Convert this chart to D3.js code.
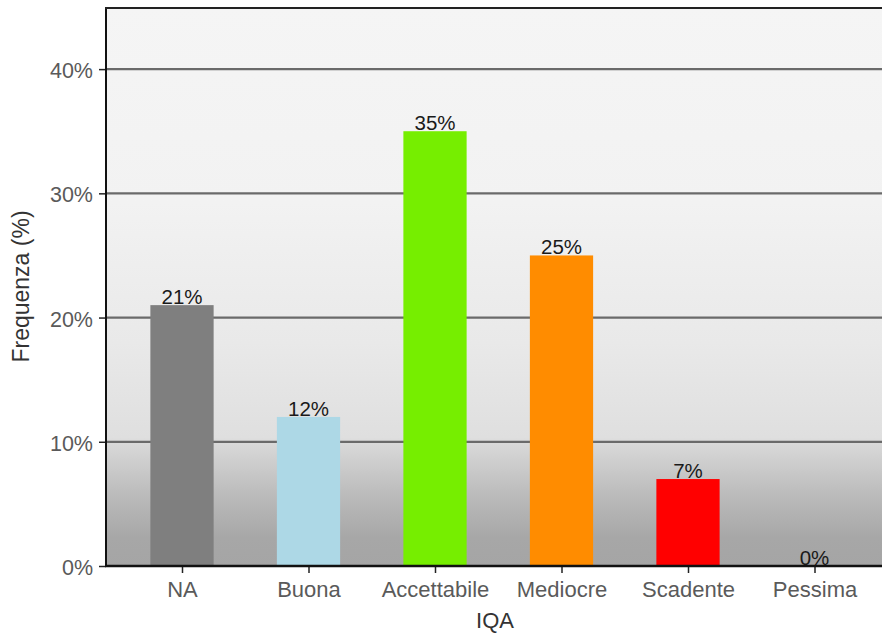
<!DOCTYPE html>
<html><head><meta charset="utf-8">
<script src="https://cdn.jsdelivr.net/npm/d3@7"></script>
<style>body{margin:0;background:#fff}svg{display:block}</style>
</head><body>
<svg id="c" width="882" height="635"></svg>
<script>
const categories = ["NA","Buona","Accettabile","Mediocre","Scadente","Pessima"];
const values = [21,12,35,25,7,0];
const colors = ["#7f7f7f","#add8e6","#76ee00","#ff8c00","#ff0000","#8b008b"];
const yTicks = [0,10,20,30,40];
const yTickLabels = ["0%","10%","20%","30%","40%"];

const svg = d3.select("#c");
const L = 106, R = 890, T = 7, B = 566;
const x = d3.scalePoint().domain(categories).range([182, 814.5]);
const step = x.step();
const bw = step * 0.5;
const y = d3.scaleLinear().domain([0,45]).range([B,T]);
const FF = "Liberation Sans, Arial, sans-serif";

const defs = svg.append("defs");
const g = defs.append("linearGradient").attr("id","bg").attr("x1",0).attr("y1",0).attr("x2",0).attr("y2",1);
[[0,"#f5f5f5"],[0.35,"#f2f2f2"],[0.6,"#e9e9e9"],[0.77,"#dfdfdf"],[0.785,"#d7d7d7"],[0.88,"#b9b9b9"],[0.95,"#a7a7a7"],[1,"#a5a5a5"]]
 .forEach(s=>g.append("stop").attr("offset",s[0]).attr("stop-color",s[1]));
svg.append("rect").attr("x",L).attr("y",T).attr("width",R-L).attr("height",B-T).attr("fill","url(#bg)");

// gridlines
svg.append("g").selectAll("line").data(yTicks.filter(d=>d>0)).join("line")
  .attr("x1",L).attr("x2",R).attr("y1",d=>y(d)).attr("y2",d=>y(d))
  .attr("stroke","#6a6a6a").attr("stroke-width",2.2);

// bars
svg.append("g").selectAll("rect").data(categories).join("rect")
  .attr("x",d=>x(d)-bw/2).attr("width",bw)
  .attr("y",(d,i)=>y(values[i])).attr("height",(d,i)=>B-y(values[i]))
  .attr("fill",(d,i)=>colors[i]);

// labels
svg.append("g").selectAll("text").data(categories).join("text")
  .attr("x",d=>x(d)).attr("y",(d,i)=>y(values[i])-1)
  .attr("text-anchor","middle").attr("font-family",FF)
  .attr("font-size",20.5).attr("fill","#1a1a1a")
  .text((d,i)=>values[i]+"%");

// axes
const yAxis = d3.axisLeft(y).tickValues(yTicks).tickFormat((d,i)=>yTickLabels[i]).tickSize(7).tickPadding(6);
const ya = svg.append("g").attr("transform",`translate(${L},0)`).call(yAxis);
ya.select(".domain").remove();
ya.selectAll(".tick line").attr("stroke","#222").attr("stroke-width",1.5);
ya.selectAll("text").attr("font-family",FF).attr("font-size",21.5).attr("fill","#5a5a5a").attr("dy","0.4em");

const xAxis = d3.axisBottom(x).tickSize(7).tickPadding(8);
const xa = svg.append("g").attr("transform",`translate(0,${B})`).call(xAxis);
xa.select(".domain").remove();
xa.selectAll(".tick line").attr("stroke","#222").attr("stroke-width",1.5);
xa.selectAll("text").attr("font-family",FF).attr("font-size",22).attr("fill","#5a5a5a");

// frame lines
svg.append("line").attr("x1",L).attr("x2",L).attr("y1",T).attr("y2",B+1).attr("stroke","#111").attr("stroke-width",2);
svg.append("line").attr("x1",L-1).attr("x2",882).attr("y1",T+1).attr("y2",T+1).attr("stroke","#222").attr("stroke-width",2);
svg.append("line").attr("x1",L-1).attr("x2",882).attr("y1",B).attr("y2",B).attr("stroke","#111").attr("stroke-width",2.5);

// titles
svg.append("text").attr("x",(L+R)/2-3).attr("y",628).attr("text-anchor","middle")
  .attr("font-family",FF).attr("font-size",22).attr("fill","#333").text("IQA");
svg.append("text").attr("transform",`translate(29,${(T+B)/2}) rotate(-90)`).attr("text-anchor","middle")
  .attr("font-family",FF).attr("font-size",23).attr("fill","#333").text("Frequenza (%)");
</script>
</body></html>
